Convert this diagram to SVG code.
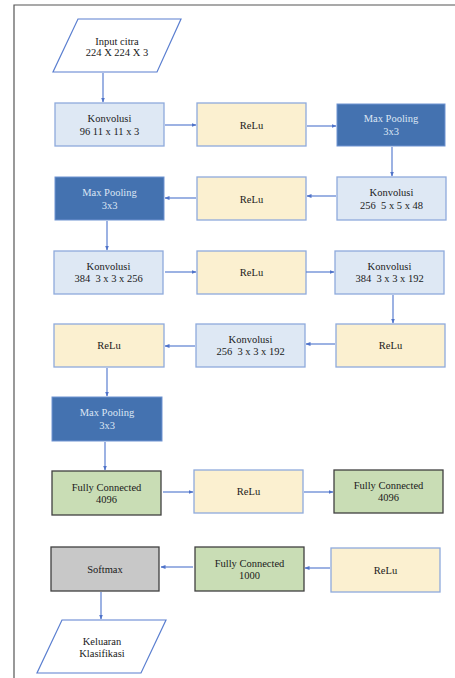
<svg xmlns="http://www.w3.org/2000/svg" width="455" height="678" viewBox="0 0 455 678" font-family="'Liberation Serif', 'Times New Roman', serif">
<defs>
<marker id="ah" viewBox="0 0 10 10" refX="9" refY="5" markerWidth="5" markerHeight="5" orient="auto" markerUnits="userSpaceOnUse">
<path d="M0,1 L10,5 L0,9 z" fill="#4F73C9"/>
</marker>
<style>
text{font-family:'Liberation Serif','Times New Roman',serif;font-size:10.5px;text-anchor:middle;fill:#1a1a1a;white-space:pre}
.conv{fill:#DEE8F4;stroke:#8EAADC;stroke-width:1.3}
.relu{fill:#FBF0D0;stroke:#8EAADC;stroke-width:1.3}
.pool{fill:#4472B0;stroke:#6F93D2;stroke-width:1}
.pool-t{fill:#DCE6F4}
.fc{fill:#C9DDB5;stroke:#404040;stroke-width:1.3}
.soft{fill:#C8C8C8;stroke:#404040;stroke-width:1.3}
.io{fill:#FFFFFF;stroke:#5B7FD0;stroke-width:1.2}
.frame{fill:none;stroke:#555555;stroke-width:1.2}
#connectors line{stroke:#5B7FD0;stroke-width:1.2;marker-end:url(#ah)}
</style>
</defs>
<rect width="455" height="678" fill="#FFFFFF"/>
<path class="frame" d="M14,678 L14,5 L455,5"/>

<g id="input"><polygon class="io" points="78,19 181,19 157,72 53,72"/><text x="117" y="45">Input citra</text><text x="117" y="56">224 X 224 X 3</text></g>

<g id="conv1"><rect class="conv" x="55" y="103" width="109" height="43"/><text x="109.5" y="122">Konvolusi</text><text x="109.5" y="135">96 11 x 11 x 3</text></g>
<g id="relu1"><rect class="relu" x="197" y="103" width="109" height="43"/><text x="251.5" y="129">ReLu</text></g>
<g id="pool1"><rect class="pool" x="337" y="104" width="108" height="42"/><text class="pool-t" x="391" y="122">Max Pooling</text><text class="pool-t" x="391" y="135">3x3</text></g>

<g id="conv2"><rect class="conv" x="337" y="177" width="109" height="43"/><text x="391.5" y="196" xml:space="preserve">Konvolusi</text><text x="391.5" y="209" xml:space="preserve">256  5 x 5 x 48</text></g>
<g id="relu2"><rect class="relu" x="197" y="177" width="109" height="43"/><text x="251.5" y="203">ReLu</text></g>
<g id="pool2"><rect class="pool" x="55" y="177" width="109" height="43"/><text class="pool-t" x="109.5" y="196">Max Pooling</text><text class="pool-t" x="109.5" y="209">3x3</text></g>

<g id="conv3"><rect class="conv" x="54" y="251" width="109" height="43"/><text x="108.5" y="270">Konvolusi</text><text x="108.5" y="282" xml:space="preserve">384  3 x 3 x 256</text></g>
<g id="relu3"><rect class="relu" x="197" y="251" width="109" height="43"/><text x="251.5" y="276">ReLu</text></g>
<g id="conv4"><rect class="conv" x="335" y="251" width="109" height="43"/><text x="389.5" y="270">Konvolusi</text><text x="389.5" y="282" xml:space="preserve">384  3 x 3 x 192</text></g>

<g id="relu4"><rect class="relu" x="336" y="324" width="109" height="43"/><text x="390.5" y="349">ReLu</text></g>
<g id="conv5"><rect class="conv" x="196" y="324" width="109" height="43"/><text x="250.5" y="343">Konvolusi</text><text x="250.5" y="355" xml:space="preserve">256  3 x 3 x 192</text></g>
<g id="relu5"><rect class="relu" x="54" y="324" width="110" height="43"/><text x="109" y="349">ReLu</text></g>

<g id="pool3"><rect class="pool" x="52" y="397" width="110" height="44"/><text class="pool-t" x="107" y="416">Max Pooling</text><text class="pool-t" x="107" y="429">3x3</text></g>

<g id="fc1"><rect class="fc" x="52" y="471" width="109" height="44"/><text x="106.5" y="491">Fully Connected</text><text x="106.5" y="503">4096</text></g>
<g id="relu6"><rect class="relu" x="194" y="470" width="109" height="43"/><text x="248.5" y="495">ReLu</text></g>
<g id="fc2"><rect class="fc" x="334" y="470" width="109" height="43"/><text x="388.5" y="489">Fully Connected</text><text x="388.5" y="501">4096</text></g>

<g id="relu7"><rect class="relu" x="331" y="548" width="109" height="44"/><text x="385.5" y="574">ReLu</text></g>
<g id="fc3"><rect class="fc" x="195" y="547" width="109" height="44"/><text x="249.5" y="567">Fully Connected</text><text x="249.5" y="579">1000</text></g>
<g id="softmax"><rect class="soft" x="51" y="547" width="108" height="44"/><text x="105" y="573">Softmax</text></g>

<g id="output"><polygon class="io" points="62,620 166,620 141,673 37,673"/><text x="102" y="645">Keluaran</text><text x="102" y="657">Klasifikasi</text></g>

<g id="connectors">
<line x1="103" y1="73" x2="103" y2="102"/>
<line x1="165" y1="125" x2="196" y2="125"/>
<line x1="307" y1="126" x2="336" y2="126"/>
<line x1="392" y1="147" x2="392" y2="176"/>
<line x1="336" y1="196" x2="307" y2="196"/>
<line x1="196" y1="198" x2="165" y2="198"/>
<line x1="107" y1="221" x2="107" y2="250"/>
<line x1="165" y1="272" x2="196" y2="272"/>
<line x1="306" y1="272" x2="334" y2="272"/>
<line x1="393" y1="295" x2="393" y2="323"/>
<line x1="335" y1="344" x2="306" y2="344"/>
<line x1="195" y1="346" x2="165" y2="346"/>
<line x1="107" y1="368" x2="107" y2="396"/>
<line x1="105" y1="442" x2="105" y2="470"/>
<line x1="163" y1="492" x2="193" y2="492"/>
<line x1="304" y1="492" x2="333" y2="492"/>
<line x1="330" y1="568" x2="305" y2="568"/>
<line x1="193" y1="567" x2="161" y2="567"/>
<line x1="101" y1="592" x2="101" y2="619"/>
</g>
</svg>
